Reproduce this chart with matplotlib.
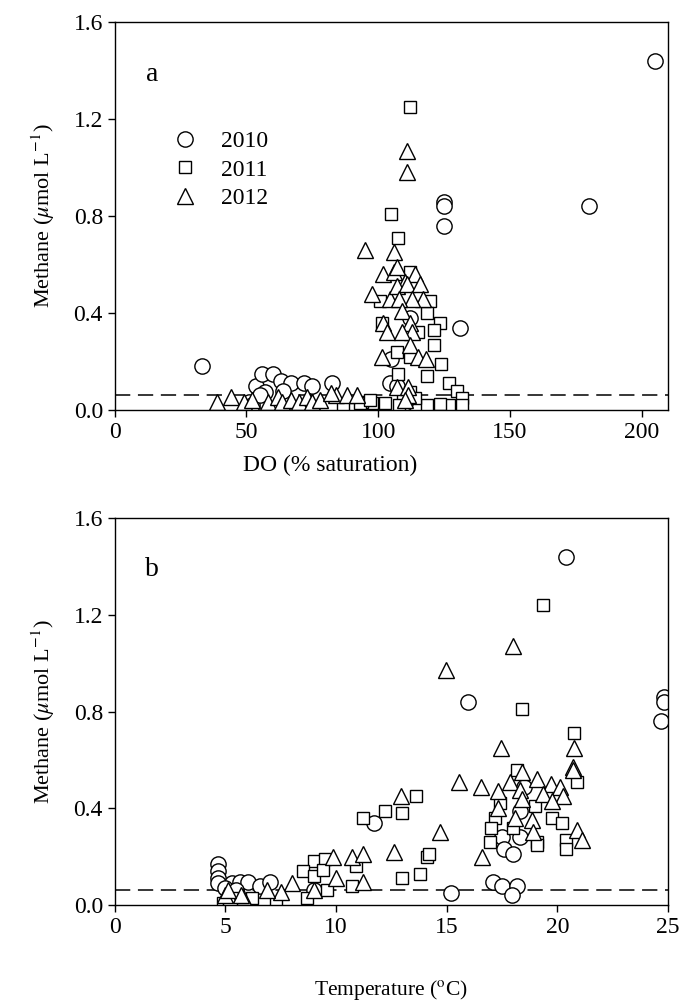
import matplotlib
matplotlib.use("Agg")
import matplotlib.pyplot as plt

plt.rcParams['font.family'] = ['Liberation Serif', 'DejaVu Serif']
plt.rcParams['mathtext.fontset'] = 'stix'

years = ['2010', '2011', '2012']

# panel a: methane vs DO (% saturation)
do_2010 = [33, 53.5, 56, 60, 63, 67, 72, 75, 82.5, 57, 51, 52, 55, 64, 104.5,
           105, 107, 112, 110, 125, 125, 125, 131, 180, 205]
ch4_do_2010 = [0.18, 0.10, 0.15, 0.15, 0.12, 0.11, 0.11, 0.10, 0.11, 0.075, 0.035, 0.02, 0.06, 0.08, 0.11,
               0.21, 0.10, 0.38, 0.03, 0.86, 0.84, 0.76, 0.34, 0.84, 1.44]
do_2011 = [112, 105, 107.5, 100.5, 119.5, 118.5, 123.5, 121, 121, 115, 112, 107, 101.5, 124, 107.5,
           118.5, 127, 130, 132, 132, 127, 123.5, 118.5, 112, 109.5, 102.5, 97.5, 94, 86.5, 93,
           97, 108, 114, 112]
ch4_do_2011 = [1.25, 0.81, 0.71, 0.45, 0.45, 0.40, 0.36, 0.33, 0.27, 0.32, 0.22, 0.24, 0.36, 0.19, 0.15,
               0.14, 0.11, 0.08, 0.05, 0.02, 0.02, 0.025, 0.02, 0.075, 0.04, 0.03, 0.03, 0.035, 0.01, 0.03,
               0.04, 0.02, 0.05, 0.57]
do_2012 = [111, 111, 95, 106, 97.5, 102, 106, 107, 114, 110, 104.5, 107, 111, 116, 117,
           113, 108, 109, 102, 103.5, 112, 113, 109, 101.5, 112, 115, 118, 107, 111.5, 111.5,
           110, 84, 88, 92, 39, 44, 49, 52, 58, 62, 63.5, 67, 70, 73, 75, 78, 82]
ch4_do_2012 = [1.07, 0.98, 0.66, 0.65, 0.48, 0.56, 0.57, 0.59, 0.56, 0.53, 0.46, 0.51, 0.52, 0.52, 0.46,
               0.46, 0.46, 0.41, 0.36, 0.32, 0.36, 0.32, 0.32, 0.22, 0.27, 0.22, 0.21, 0.095, 0.095, 0.06,
               0.04, 0.06, 0.06, 0.06, 0.035, 0.055, 0.035, 0.04, 0.035, 0.055, 0.035, 0.04, 0.035, 0.055, 0.035, 0.04, 0.07]

# panel b: methane vs temperature
temp_2010 = [4.66, 4.66, 4.66, 4.66, 5.3, 5.65, 6.0, 6.55, 7.0, 9.0, 11.7, 15.95, 20.4, 24.8, 24.8,
             24.7, 18.5, 18.3, 17.5, 17.6, 18.0, 18.3, 17.1, 17.5, 18.2, 17.95, 15.2, 5.0, 5.5]
ch4_t_2010 = [0.17, 0.14, 0.11, 0.09, 0.09, 0.095, 0.095, 0.08, 0.095, 0.06, 0.34, 0.84, 1.44, 0.86, 0.84,
              0.76, 0.49, 0.39, 0.28, 0.23, 0.21, 0.28, 0.095, 0.08, 0.08, 0.04, 0.05, 0.07, 0.06]
temp_2011 = [19.35, 18.4, 20.75, 20.9, 13.6, 12.2, 13.0, 14.1, 14.2, 13.8, 13.0, 18.2, 17.2, 17.0, 18.0,
             19.75, 20.2, 19.1, 19.1, 20.4, 20.4, 16.95, 11.2, 9.0, 9.5, 8.5, 9.0, 9.4, 10.9, 10.7,
             9.6, 8.7, 7.3, 6.2, 5.3, 4.9, 17.4, 19.0]
ch4_t_2011 = [1.24, 0.81, 0.71, 0.51, 0.45, 0.39, 0.38, 0.20, 0.21, 0.13, 0.11, 0.56, 0.36, 0.32, 0.32,
              0.36, 0.34, 0.26, 0.25, 0.27, 0.23, 0.26, 0.36, 0.18, 0.19, 0.14, 0.12, 0.145, 0.16, 0.08,
              0.06, 0.03, 0.01, 0.03, 0.03, 0.01, 0.42, 0.41]
temp_2012 = [18.0, 14.95, 17.45, 20.75, 20.7, 20.7, 15.55, 16.55, 12.95, 14.7, 12.6, 16.6, 17.3, 17.85, 18.4,
             19.1, 19.7, 20.1, 20.25, 20.9, 21.1, 18.85, 18.9, 18.1, 18.3, 19.35, 19.75, 17.3, 18.4, 9.85,
             10.7, 11.2, 10.0, 11.2, 8.0, 9.0, 7.5, 6.9, 5.8, 5.2, 5.0, 5.7, 5.1]
ch4_t_2012 = [1.07, 0.97, 0.65, 0.65, 0.57, 0.56, 0.51, 0.49, 0.45, 0.30, 0.22, 0.20, 0.47, 0.51, 0.55,
              0.52, 0.50, 0.49, 0.45, 0.31, 0.27, 0.35, 0.30, 0.36, 0.475, 0.46, 0.43, 0.40, 0.44, 0.20,
              0.20, 0.21, 0.11, 0.095, 0.09, 0.06, 0.055, 0.06, 0.035, 0.03, 0.04, 0.04, 0.06]

detection_limit = 0.06
yticks = [0.0, 0.4, 0.8, 1.2, 1.6]

markers = {'2010': ('o', 11), '2011': ('s', 8.8), '2012': ('^', 11)}
fs = 17

fig = plt.figure(figsize=(6.83, 10.05), dpi=100)
ax_a = fig.add_axes([0.168, 0.592, 0.810, 0.386])
ax_b = fig.add_axes([0.168, 0.0995, 0.810, 0.385])

def draw(ax, xs, ys):
    for yr, x, y in zip(years, xs, ys):
        m, ms = markers[yr]
        ax.plot(x, y, linestyle='none', marker=m, markersize=ms, mfc='white',
                mec='black', mew=1.0, label=yr)
    ax.axhline(detection_limit, color='black', lw=1.1, dashes=(10, 5), zorder=0)
    ax.set_ylim(0, 1.6)
    ax.set_yticks(yticks)
    ax.set_yticklabels(['%.1f' % v for v in yticks])
    ax.tick_params(direction='out', length=5, width=1, labelsize=fs)
    for s in ax.spines.values():
        s.set_linewidth(1)
    ax.set_ylabel(r'Methane ($\mu$mol L$^{-1}$)', fontsize=16, labelpad=12)

draw(ax_a, [do_2010, do_2011, do_2012], [ch4_do_2010, ch4_do_2011, ch4_do_2012])
ax_a.set_xlim(0, 210)
ax_a.set_xticks([0, 50, 100, 150, 200])
ax_a.set_xlabel('DO (% saturation)', fontsize=fs, labelpad=8)
ax_a.xaxis.set_label_coords(0.39, -0.115)
ax_a.text(0.067, 0.865, 'a', transform=ax_a.transAxes, fontsize=20, va='center', ha='center')
ax_a.legend(loc='upper left', bbox_to_anchor=(0.085, 0.745), frameon=False, fontsize=fs,
            handlelength=1.2, handletextpad=0.9, labelspacing=0.3, borderaxespad=0)

draw(ax_b, [temp_2010, temp_2011, temp_2012], [ch4_t_2010, ch4_t_2011, ch4_t_2012])
ax_b.set_xlim(0, 25)
ax_b.set_xticks([0, 5, 10, 15, 20, 25])
ax_b.set_xlabel(r'Temperature ($^{\rm o}$C)', fontsize=15.5, labelpad=29)
ax_b.text(0.067, 0.866, 'b', transform=ax_b.transAxes, fontsize=20, va='center', ha='center')

fig.savefig('out.png', dpi=100)
